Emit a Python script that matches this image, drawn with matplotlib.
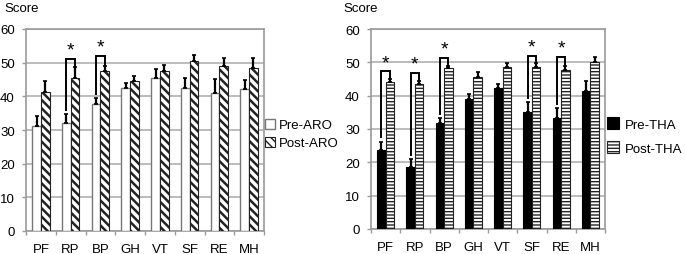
import numpy as np
import matplotlib
matplotlib.use('Agg')
import matplotlib.pyplot as plt

plt.rcParams['font.family'] = ['Liberation Sans', 'DejaVu Sans']

categories = ['PF', 'RP', 'BP', 'GH', 'VT', 'SF', 'RE', 'MH']

# left panel: ARO
pre_aro = [31.3, 32.0, 37.8, 42.5, 45.5, 42.5, 41.0, 42.2]
pre_aro_err = [2.8, 2.7, 1.7, 1.5, 2.5, 2.9, 4.2, 2.8]
post_aro = [41.4, 45.4, 47.4, 44.5, 47.6, 50.5, 49.1, 48.5]
post_aro_err = [3.3, 3.2, 1.7, 1.5, 1.7, 1.8, 2.3, 3.0]
aro_sig = [1, 2]
aro_bracket = [51.0, 52.0]

# right panel: THA
pre_tha = [23.7, 18.5, 31.9, 39.0, 42.2, 35.0, 33.3, 41.3]
pre_tha_err = [2.5, 2.5, 1.4, 1.5, 1.2, 3.0, 2.9, 3.2]
post_tha = [44.0, 43.5, 48.2, 45.7, 48.5, 48.5, 47.8, 50.2]
post_tha_err = [1.0, 1.0, 0.8, 1.3, 1.2, 1.2, 1.2, 1.3]
tha_sig = [0, 1, 2, 5, 6]
tha_bracket = [47.3, 46.8, 51.3, 52.0, 51.7]

W, H = 685, 255
fig = plt.figure(figsize=(W / 100, H / 100), dpi=100)

GRID = '#b0b0b0'
SPINE = '#9a9a9a'


def panel(rect, pre, pre_err, post, post_err, pre_style, post_style, sig, brackets, hatch_lw):
    ax = fig.add_axes(rect)
    x = np.arange(len(categories))
    w = 0.29
    ekw = dict(elinewidth=1.6, capsize=1.6, capthick=1.2, ecolor='black')
    with plt.rc_context({'hatch.linewidth': hatch_lw[0]}):
        b1 = ax.bar(x - w / 2, pre, w, yerr=[np.zeros(len(pre)), pre_err],
                    error_kw=ekw, zorder=3, **pre_style)
    with plt.rc_context({'hatch.linewidth': hatch_lw[1]}):
        b2 = ax.bar(x + w / 2, post, w, yerr=[np.zeros(len(post)), post_err],
                    error_kw=ekw, zorder=3, **post_style)
    for p in b1.patches:
        if hasattr(p, 'set_hatch_linewidth'):
            p.set_hatch_linewidth(hatch_lw[0])
    for p in b2.patches:
        if hasattr(p, 'set_hatch_linewidth'):
            p.set_hatch_linewidth(hatch_lw[1])

    for i, yb in zip(sig, brackets):
        x0, x1 = i - w / 2, i + w / 2
        y0 = pre[i] + pre_err[i] + 1.3
        y1 = post[i] + post_err[i] + 0.2
        ax.plot([x0, x0, x1, x1], [y0, yb, yb, y1], color='black', lw=1.4,
                zorder=4, solid_joinstyle='miter')
        ax.text(i, yb + 0.1, '*', ha='center', va='bottom', fontsize=14, zorder=5)

    ax.set_xlim(-0.5, len(categories) - 0.5)
    ax.set_ylim(0, 60)
    ax.set_yticks(range(0, 61, 10))
    ax.yaxis.grid(True, color=GRID, lw=1.2, zorder=0)
    ax.set_axisbelow(True)
    ax.set_xticks(x)
    ax.set_xticklabels(categories)
    ax.set_xticks(np.arange(-0.5, len(categories), 1), minor=True)
    ax.tick_params(axis='x', which='major', length=0, pad=9, labelsize=9.5)
    ax.tick_params(axis='x', which='minor', length=3, color=SPINE, width=1)
    ax.tick_params(axis='y', length=3, color=SPINE, width=1, pad=5, labelsize=9.5)
    for s in ax.spines.values():
        s.set_color(SPINE)
        s.set_linewidth(1.2)
    return ax, b1, b2


ax1, a1, a2 = panel([26 / W, 1 - 232 / H, 238 / W, 202 / H],
                    pre_aro, pre_aro_err, post_aro, post_aro_err,
                    dict(color='white', edgecolor='#777777', linewidth=1.0),
                    dict(color='white', edgecolor='#222222', linewidth=0.8,
                         hatch='\\\\\\\\'),
                    aro_sig, aro_bracket, (1.0, 1.8))

ax2, t1, t2 = panel([371 / W, 1 - 230 / H, 234 / W, 200 / H],
                    pre_tha, pre_tha_err, post_tha, post_tha_err,
                    dict(color='black', edgecolor='black', linewidth=0.8),
                    dict(color='white', edgecolor='#222222', linewidth=0.8,
                         hatch='-----'),
                    tha_sig, tha_bracket, (1.0, 1.0))

fig.text(4 / W, 1 - 9 / H, 'Score', fontsize=9.5, va='center', ha='left')
fig.text(343 / W, 1 - 9 / H, 'Score', fontsize=9.5, va='center', ha='left')

fig.legend([a1, a2], ['Pre-ARO', 'Post-ARO'], loc='center left',
           bbox_to_anchor=(262 / W, 1 - 135 / H), frameon=False, fontsize=9.5,
           handlelength=0.8, handleheight=0.8, handletextpad=0.3,
           labelspacing=0.4, borderaxespad=0, borderpad=0.2)
fig.legend([t1, t2], ['Pre-THA', 'Post-THA'], loc='center left',
           bbox_to_anchor=(604 / W, 1 - 137 / H), frameon=False, fontsize=9.5,
           handlelength=0.9, handleheight=1.0, handletextpad=0.5,
           labelspacing=0.8, borderaxespad=0, borderpad=0.2)

fig.savefig('out.png', dpi=100)
